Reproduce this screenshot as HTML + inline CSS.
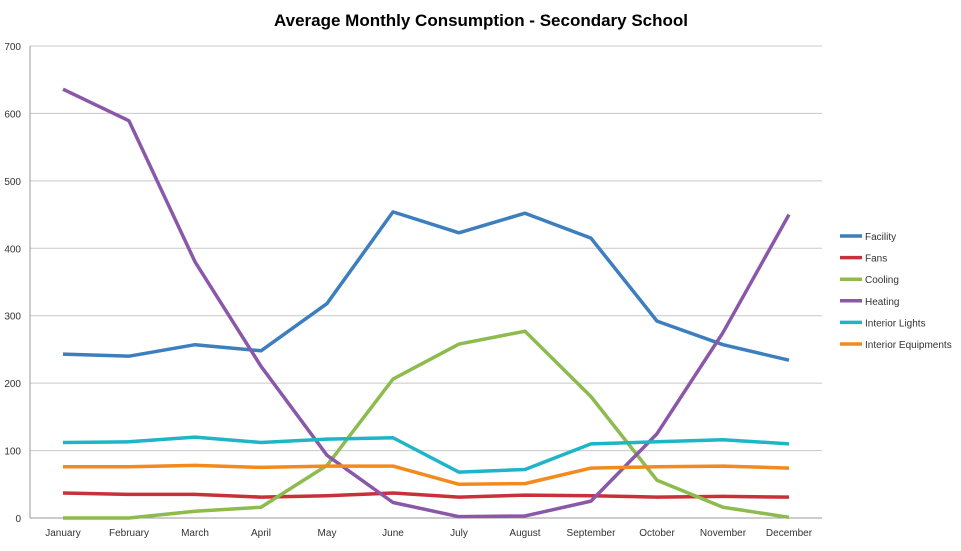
<!DOCTYPE html>
<html><head><meta charset="utf-8"><style>
body{margin:0;background:#fff;font-family:"Liberation Sans",sans-serif}
</style></head><body>
<svg id="chart" width="961" height="546" xmlns="http://www.w3.org/2000/svg">
<text x="481" y="26" text-anchor="middle" font-size="17" font-weight="bold" fill="#000">Average Monthly Consumption - Secondary School</text>
<g id="grid"></g><g id="series"></g><g id="legend"></g>
</svg>
<script>
const months=["January","February","March","April","May","June","July","August","September","October","November","December"];
const yTicks=[0,100,200,300,400,500,600,700];
const seriesNames=["Facility","Fans","Cooling","Heating","Interior Lights","Interior Equipments"];
const seriesColors=["#3d7ebf","#c8313a","#8dbb4e","#8a58a8","#1fb5c8","#f28a1e"];
const facility=[243,240,257,248,318,454,423,452,415,292,257,234];
const fans=[37,35,35,31,33,37,31,34,33,31,32,31];
const cooling=[0,0,10,16,78,206,258,277,180,56,16,1];
const heating=[636,589,380,225,93,23,2,3,25,125,275,450];
const lights=[112,113,120,112,117,119,68,72,110,113,116,110];
const equip=[76,76,78,75,77,77,50,51,74,76,77,74];
const allSeries=[facility,fans,cooling,heating,lights,equip];
const NS="http://www.w3.org/2000/svg";
const x0=30,x1=822,y0=518,y1=46,ymax=700;
const xs=i=>x0+(i+0.5)*(x1-x0)/months.length;
const ys=v=>y0-(v/ymax)*(y0-y1);
function mk(t,a,p){const e=document.createElementNS(NS,t);for(const k in a)e.setAttribute(k,a[k]);p.appendChild(e);return e;}
const grid=document.getElementById('grid');
yTicks.forEach(v=>{
 const l=mk('line',{x1:x0,x2:x1,y1:ys(v),y2:ys(v),stroke:v===0?'#999':'#c8c8c8','stroke-width':1},grid);
 
 
 const t=mk('text',{x:21,y:ys(v)+4,'text-anchor':'end','font-size':10,fill:'#333'},grid);t.textContent=v;
 
 
});
const ax=mk('line',{x1:x0,x2:x0,y1:y1,y2:y0,stroke:'#999'},grid);


months.forEach((m,i)=>{
 const t=mk('text',{x:xs(i),y:536,'text-anchor':'middle','font-size':10,fill:'#333'},grid);t.textContent=m;
 
 
});
const sg=document.getElementById('series');
allSeries.forEach((d,s)=>{
 const p=mk('polyline',{points:d.map((v,i)=>xs(i)+','+ys(v)).join(' '),fill:'none',stroke:seriesColors[s],'stroke-width':3.5,'stroke-linejoin':'round'},sg);
 
 
});
const lg=document.getElementById('legend');
seriesNames.forEach((n,s)=>{
 const y=236+s*21.6;
 const g=mk('g',{},lg);
 
 
 mk('line',{x1:840,x2:862,y1:y,y2:y,stroke:seriesColors[s],'stroke-width':3.5},g);
 const t=mk('text',{x:865,y:y+4,'font-size':10,fill:'#333'},g);t.textContent=n;
});
</script>
</body></html>
